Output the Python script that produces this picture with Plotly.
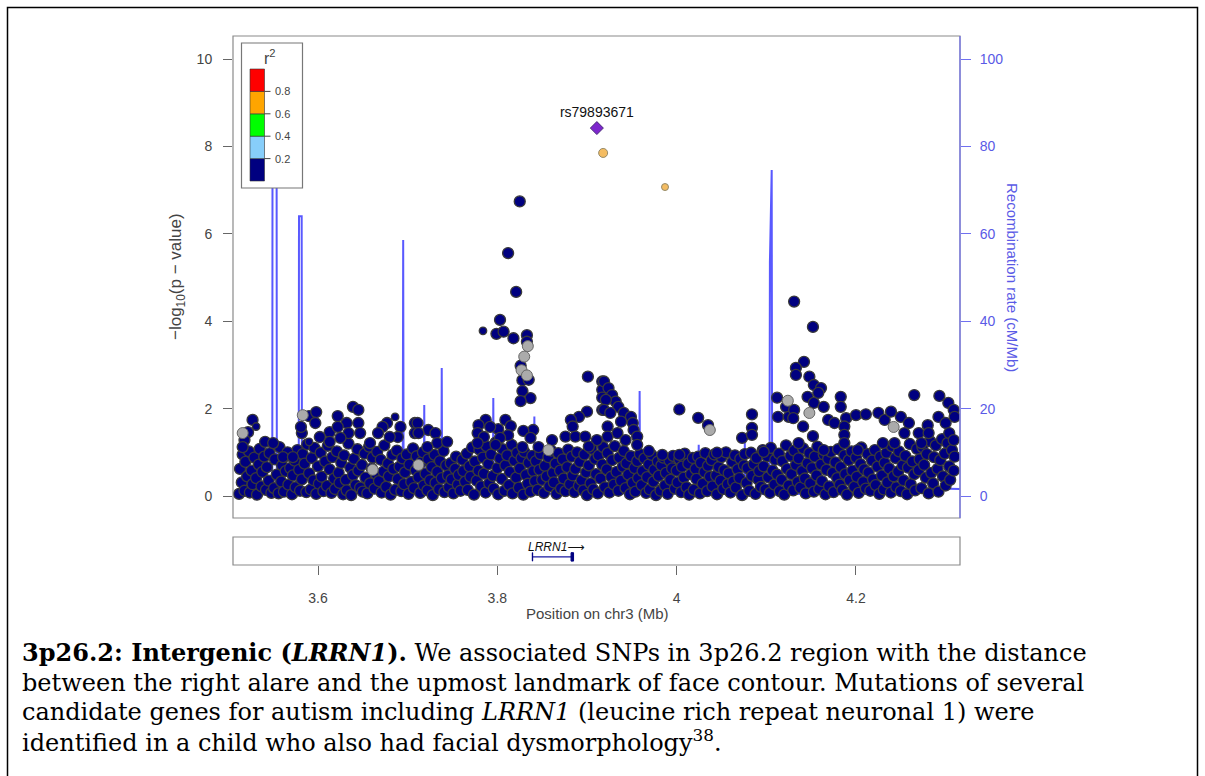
import plotly.graph_objects as go

W, H = 1205, 776

# ---------------- data ----------------
# dense low-significance band (Mb, -log10 p)
mass_pos = [
 3.512,3.513,3.515,3.516,3.518,3.519,3.521,3.523,3.524,3.526,3.527,3.529,
 3.531,3.532,3.534,3.535,3.537,3.538,3.540,3.542,3.543,3.545,3.546,3.548,
 3.551,3.552,3.554,3.556,3.557,3.559,3.560,3.562,3.564,3.565,3.567,3.569,
 3.571,3.572,3.574,3.575,3.577,3.579,3.580,3.582,3.583,3.585,3.587,3.588,
 3.590,3.592,3.593,3.595,3.596,3.598,3.600,3.601,3.603,3.604,3.606,3.608,
 3.610,3.611,3.613,3.615,3.616,3.618,3.619,3.621,3.623,3.624,3.626,3.628,
 3.629,3.631,3.632,3.634,3.636,3.637,3.639,3.640,3.642,3.644,3.645,3.647,
 3.649,3.650,3.652,3.653,3.655,3.657,3.658,3.660,3.661,3.663,3.665,3.666,
 3.668,3.670,3.671,3.673,3.674,3.676,3.678,3.679,3.681,3.683,3.684,3.686,
 3.688,3.689,3.691,3.693,3.694,3.696,3.697,3.699,3.701,3.702,3.704,3.706,
 3.707,3.709,3.710,3.712,3.714,3.715,3.717,3.718,3.720,3.722,3.723,3.725,
 3.727,3.728,3.730,3.731,3.733,3.735,3.736,3.738,3.740,3.741,3.743,3.745,
 3.746,3.748,3.749,3.751,3.753,3.754,3.756,3.757,3.759,3.761,3.762,3.764,
 3.766,3.767,3.769,3.770,3.772,3.774,3.775,3.777,3.779,3.780,3.782,3.784,
 3.785,3.787,3.788,3.790,3.791,3.793,3.795,3.796,3.798,3.800,3.801,3.803,
 3.805,3.806,3.808,3.809,3.811,3.813,3.814,3.816,3.817,3.819,3.821,3.822,
 3.824,3.825,3.827,3.829,3.830,3.832,3.834,3.835,3.837,3.839,3.840,3.842,
 3.843,3.845,3.847,3.848,3.850,3.852,3.853,3.855,3.857,3.858,3.860,3.862,
 3.863,3.865,3.866,3.868,3.870,3.871,3.873,3.874,3.876,3.878,3.879,3.881,
 3.883,3.884,3.886,3.887,3.889,3.891,3.892,3.894,3.896,3.897,3.899,3.900,
 3.902,3.904,3.905,3.907,3.909,3.910,3.912,3.913,3.915,3.917,3.918,3.920,
 3.922,3.923,3.925,3.927,3.928,3.930,3.931,3.933,3.935,3.936,3.938,3.940,
 3.941,3.943,3.944,3.946,3.948,3.949,3.951,3.953,3.954,3.956,3.957,3.959,
 3.961,3.962,3.964,3.966,3.967,3.969,3.970,3.972,3.974,3.975,3.977,3.979,
 3.980,3.982,3.983,3.985,3.987,3.988,3.990,3.992,3.993,3.995,3.996,3.998,
 4.000,4.001,4.003,4.005,4.006,4.008,4.009,4.011,4.013,4.014,4.016,4.018,
 4.019,4.021,4.022,4.024,4.026,4.027,4.029,4.031,4.032,4.034,4.035,4.037,
 4.039,4.040,4.042,4.044,4.045,4.047,4.049,4.050,4.052,4.053,4.055,4.057,
 4.058,4.060,4.062,4.063,4.065,4.066,4.068,4.070,4.071,4.073,4.075,4.076,
 4.078,4.079,4.081,4.083,4.084,4.086,4.088,4.089,4.091,4.092,4.094,4.096,
 4.097,4.099,4.101,4.102,4.104,4.105,4.107,4.109,4.110,4.112,4.114,4.115,
 4.117,4.118,4.120,4.122,4.123,4.125,4.127,4.128,4.130,4.131,4.133,4.135,
 4.136,4.138,4.140,4.141,4.143,4.144,4.146,4.148,4.149,4.151,4.153,4.154,
 4.156,4.157,4.159,4.161,4.162,4.164,4.166,4.167,4.169,4.170,4.172,4.174,
 4.175,4.177,4.179,4.180,4.182,4.183,4.185,4.187,4.188,4.190,4.192,4.193,
 4.195,4.196,4.198,4.200,4.201,4.203,4.205,4.206,4.208,4.209,4.211,4.213,
 4.214,4.216,4.218,4.219,4.221,4.222,4.224,4.226,4.227,4.229,4.231,4.232,
 4.234,4.235,4.237,4.239,4.240,4.242,4.244,4.245,4.247,4.248,4.250,4.252,
 4.253,4.255,4.257,4.258,4.260,4.261,4.263,4.265,4.266,4.268,4.270,4.271,
 4.273,4.274,4.276,4.278,4.279,4.281,4.283,4.284,4.286,4.287,4.289,4.291,
 4.292,4.294,4.296,4.297,4.299,4.300,4.302,4.304,4.305,4.307,4.309,4.310,
]
mass_logp = [
 0.05,0.62,0.31,0.95,0.12,0.78,0.45,1.02,0.08,0.58,0.27,0.88,
 0.41,0.03,0.72,1.08,0.22,0.55,0.90,0.14,0.66,0.35,0.98,0.07,
 0.18,0.84,0.49,0.06,1.12,0.33,0.70,0.10,0.57,0.92,0.26,0.64,
 0.04,0.47,0.81,0.20,1.05,0.60,0.12,0.38,0.96,0.74,0.09,1.18,
 0.52,0.15,0.87,0.36,1.10,0.05,0.68,0.28,0.99,0.44,0.11,0.79,
 0.23,1.15,0.61,0.07,0.89,0.40,0.16,1.02,0.53,0.30,0.76,0.04,
 0.93,0.37,0.13,1.20,0.65,0.02,0.48,0.85,0.25,1.07,0.58,0.19,
 0.71,0.10,0.97,0.42,0.06,1.13,0.29,0.63,0.88,0.17,0.50,1.01,
 0.34,0.83,0.08,0.56,1.16,0.21,0.74,0.45,0.03,0.94,0.62,0.14,
 1.04,0.39,0.67,0.11,0.86,0.27,0.54,0.95,0.05,0.72,0.32,1.09,
 0.18,0.59,0.91,0.43,0.07,0.77,1.00,0.24,0.51,0.13,0.84,0.36,
 0.66,0.02,0.94,0.30,0.55,0.15,0.80,0.41,1.03,0.09,0.70,0.47,
 0.20,0.75,0.38,0.06,0.62,0.90,0.26,0.48,0.12,0.83,0.57,0.33,
 0.97,0.14,0.68,0.44,1.11,0.03,0.79,0.35,0.58,1.06,0.22,0.88,
 0.51,0.08,1.14,0.73,0.29,0.95,0.46,0.17,1.22,0.64,0.04,0.86,
 0.39,1.07,0.12,0.70,0.93,0.25,0.55,1.17,0.06,0.81,0.42,0.99,
 0.19,0.63,0.87,0.03,1.01,0.48,0.28,0.76,0.10,0.92,0.57,0.34,
 0.80,0.14,0.60,0.96,0.37,0.07,0.69,0.45,0.89,0.22,1.04,0.53,
 0.31,0.74,0.05,0.98,0.58,0.17,0.84,0.40,0.11,0.66,1.06,0.27,
 0.90,0.47,0.09,0.62,1.00,0.23,0.78,0.36,0.13,0.95,0.54,0.02,
 0.70,0.29,1.08,0.15,0.85,0.50,0.06,0.93,0.40,0.72,1.12,0.20,
 0.61,0.98,0.08,0.44,0.82,0.26,1.14,0.55,0.12,0.88,0.35,0.67,
 1.03,0.18,0.75,0.49,0.04,0.91,0.30,0.64,0.10,0.80,0.41,0.96,
 0.25,0.57,0.86,0.07,0.43,0.72,0.15,0.94,0.33,0.60,0.02,0.79,
 0.46,0.12,0.70,0.88,0.24,0.53,0.05,0.81,0.37,0.63,0.92,0.17,
 0.58,0.31,0.84,0.09,0.67,0.42,0.97,0.20,0.74,0.03,0.50,0.87,
 0.14,0.62,0.39,0.90,0.06,0.76,0.28,0.55,0.98,0.11,0.69,0.44,
 0.82,0.22,0.95,0.47,0.04,0.66,0.35,0.89,0.16,0.59,1.00,0.27,
 0.52,0.08,0.78,0.33,0.93,0.19,0.61,0.41,0.85,0.02,0.70,0.96,
 0.30,0.64,0.12,0.99,0.46,0.73,0.05,0.87,0.38,0.57,0.21,1.05,
 0.68,0.15,0.91,0.43,0.07,1.10,0.58,0.26,0.83,0.49,0.97,0.11,
 0.37,0.80,0.03,1.16,0.62,0.24,0.92,0.50,0.13,1.04,0.71,0.32,
 0.86,0.19,0.57,1.09,0.40,0.06,0.75,0.98,0.29,0.64,0.10,0.90,
 0.47,1.13,0.16,0.72,0.34,0.95,0.04,0.60,0.85,0.22,1.01,0.53,
 0.09,0.77,0.41,1.07,0.26,0.66,0.14,0.93,0.50,0.03,0.82,0.36,
 1.02,0.58,0.21,0.88,0.44,0.07,0.73,1.11,0.32,0.61,0.17,0.96,
 0.54,0.12,0.81,0.38,1.05,0.25,0.67,0.05,0.90,0.47,0.15,0.76,
 0.99,0.31,0.63,0.08,1.14,0.45,0.87,0.20,0.56,1.02,0.11,0.70,
 0.36,0.92,0.04,0.65,1.19,0.27,0.79,0.50,0.13,1.08,0.59,0.84,
 0.18,1.12,0.71,0.42,0.96,0.06,1.25,0.53,0.29,0.89,1.16,0.62,
 0.10,0.82,1.30,0.45,0.97,0.24,1.21,0.68,0.37,1.05,0.58,0.90,
]

# scattered SNPs above the band, r2 < 0.2 (navy)
snp_pos = [
 3.527,3.522,3.518,3.516,3.541,3.550,3.590,3.598,3.597,3.582,3.581,3.622,3.639,3.645,
 3.645,3.632,3.613,3.622,3.634,3.647,3.625,3.677,3.672,3.667,3.692,3.689,3.680,3.708,
 3.708,3.658,3.613,3.602,3.566,3.561,3.572,
 3.821,3.803,3.799,3.807,3.818,3.833,3.833,3.826,3.828,3.835,3.828,3.837,3.826,3.901,
 3.917,3.917,3.917,3.917,3.900,3.891,3.882,3.884,3.876,3.887,3.898,3.911,3.902,3.861,
 3.840,3.829,3.837,3.828,3.846,3.809,3.815,3.812,3.801,3.803,3.787,3.779,3.792,3.778,
 3.785,3.778,3.798,3.711,3.723,3.731,3.733,3.744,3.722,3.712,3.825,3.812,
 3.919,3.924,3.928,3.932,3.935,3.921,3.919,3.926,3.941,3.949,3.951,3.938,3.952,3.956,
 3.923,3.923,3.934,3.943,3.956,3.969,4.003,4.024,4.035,4.084,4.084,4.073,4.084,4.112,
 4.122,4.113,4.125,4.131,3.984,4.003,4.045,4.097,
 4.152,4.142,4.133,4.133,4.148,4.153,4.161,4.146,4.153,4.158,4.131,4.130,4.141,4.152,
 4.164,4.183,4.183,4.169,4.176,4.189,4.200,4.211,4.187,4.187,4.187,4.225,4.232,4.239,
 4.250,4.259,4.254,4.265,4.293,4.303,4.309,4.310,4.292,4.280,4.270,4.281,4.300,4.304,
 4.309,4.202,4.164,4.136,4.230,4.243,4.273,
]
snp_logp = [
 1.74,1.46,1.28,1.12,1.24,1.21,1.83,1.92,1.67,1.44,1.58,1.83,2.04,1.97,
 1.67,1.67,1.46,1.58,1.44,1.44,1.33,1.67,1.58,1.44,1.58,1.35,1.35,1.67,
 1.44,1.21,1.24,1.35,1.00,0.89,0.89,
 4.67,4.03,3.71,3.76,3.61,3.68,3.53,2.98,2.65,2.66,2.40,2.24,2.17,2.73,
 2.62,2.43,2.25,1.97,1.93,1.81,1.74,1.59,1.36,1.36,1.36,1.28,1.13,1.28,
 1.51,1.49,1.33,1.12,1.12,1.74,1.60,1.39,1.53,1.33,1.74,1.62,1.58,1.44,
 1.35,1.21,1.17,1.67,1.51,1.44,1.21,1.24,1.12,1.44,6.74,5.56,
 2.62,2.47,2.31,2.16,2.04,2.20,1.97,1.90,1.90,1.81,1.67,1.70,1.51,1.36,
 1.59,1.36,1.44,1.28,1.17,1.03,1.98,1.79,1.62,1.87,1.56,1.33,1.40,2.25,
 2.04,1.81,1.81,4.45,0.94,0.94,0.99,1.01,
 3.87,3.07,2.93,2.77,2.73,2.54,2.47,2.27,2.13,2.36,1.97,1.78,1.59,1.37,
 2.04,2.27,2.04,1.74,1.67,1.78,1.85,1.87,1.59,1.40,1.21,1.90,1.74,1.93,
 1.81,1.67,1.44,2.31,2.29,2.13,1.97,1.81,1.81,1.62,1.44,1.44,1.67,1.44,
 1.28,1.05,1.05,1.21,1.21,1.21,1.21,
]

# smaller-marker navy SNPs
small_pos = [3.531, 3.590, 3.686, 3.784]
small_logp = [1.59, 1.24, 1.81, 3.78]

# SNPs without LD information (grey)
na_pos = [3.516, 3.583, 3.661, 3.712, 3.834, 3.830, 3.827, 3.833, 3.857, 4.037, 4.124, 4.148, 4.242]
na_logp = [1.44, 1.85, 0.60, 0.71, 3.43, 3.19, 2.88, 2.76, 1.05, 1.51, 2.18, 1.90, 1.58]

# r2 0.6-0.8 (orange)
orange_pos = [3.918, 3.987]
orange_logp = [7.85, 7.07]

# index SNP
lead_name = "rs79893671"
lead_pos = 3.911
lead_logp = 8.42

# recombination rate (cM/Mb)
recomb_pos = [3.505, 3.530, 3.5490, 3.5493, 3.5538, 3.5541, 3.566, 3.5785, 3.5788, 3.5818, 3.5821,
              3.640, 3.6945, 3.6950, 3.6955, 3.7180, 3.7185, 3.7190, 3.7375, 3.7380, 3.7385,
              3.770, 3.7950, 3.7955, 3.7960, 3.8408, 3.8413, 3.8418, 3.880, 3.9168, 3.9173, 3.9178,
              3.9582, 3.9587, 3.9592, 4.0241, 4.0246, 4.0251, 4.0755, 4.0760, 4.0765,
              4.1035, 4.1040, 4.1060, 4.1065, 4.180, 4.250, 4.262, 4.290, 4.316]
recomb_rate = [0.5, 0.8, 0.6, 88.0, 88.0, 0.6, 0.4, 0.5, 64.0, 64.0, 0.5,
               0.7, 0.6, 58.6, 0.6, 0.5, 20.8, 0.5, 0.6, 29.3, 0.6,
               0.8, 0.6, 22.4, 0.6, 0.5, 18.2, 0.5, 0.6, 0.5, 11.0, 0.5,
               0.6, 24.0, 0.6, 0.5, 11.7, 0.5, 0.6, 12.4, 0.6,
               0.5, 53.5, 74.6, 0.5, 0.4, 0.6, 1.6, 1.7, 1.6]

# gene track
gene_name = "LRRN1"
gene_start = 3.8390
gene_end = 3.8850
exon_start = [3.8390, 3.8822]
exon_end = [3.8394, 3.8850]

# axis ticks
x_ticks = [3.6, 3.8, 4.0, 4.2]
x_ticklabels = ["3.6", "3.8", "4", "4.2"]
y_ticks = [0, 2, 4, 6, 8, 10]
recomb_ticks = [0, 20, 40, 60, 80, 100]
legend_breaks = [0.2, 0.4, 0.6, 0.8]
legend_colors = ["#000080", "#87CEFA", "#00FF00", "#FFA500", "#FF0000"]

caption_lines = [
    "<b>3p26.2: Intergenic (<i>LRRN1</i>).</b> We associated SNPs in 3p26.2 region with the distance",
    "between the right alare and the upmost landmark of face contour. Mutations of several",
    "candidate genes for autism including <i>LRRN1</i> (leucine rich repeat neuronal 1) were",
    "identified in a child who also had facial dysmorphology<sup>38</sup>.",
]

# ---------------- layout helpers ----------------
def px(x):
    return x / W

def py(y):
    return 1 - y / H

PL, PR = 233, 960          # plot left/right (px)
PT, PB = 36, 518           # main panel top/bottom (px)
GT, GB = 537, 565          # gene panel top/bottom (px)
XR = [3.5052, 4.3160]
Y0PX, Y10PX = 496, 59
unit = (Y0PX - Y10PX) / 10.0
YR = [-(PB - Y0PX) / unit, (Y0PX - PT) / unit]
RR = [YR[0] * 10, YR[1] * 10]

SANS = "Liberation Sans, Arial, sans-serif"
SERIF = "DejaVu Serif, serif"
GRAY = "#444444"
BLUE_TXT = "#5a5ae6"

fig = go.Figure()

# recombination line (base y axis so it sits under the points)
fig.add_trace(go.Scatter(x=recomb_pos, y=recomb_rate, mode="lines",
                         line=dict(color="rgba(60,60,255,0.85)", width=2),
                         xaxis="x", yaxis="y", hoverinfo="skip", showlegend=False))

edge = dict(color="#3a3a3a", width=1.3)
fig.add_trace(go.Scatter(x=mass_pos, y=mass_logp, mode="markers", xaxis="x", yaxis="y3",
                         marker=dict(size=11, color="#000080", line=edge), showlegend=False))
fig.add_trace(go.Scatter(x=snp_pos, y=snp_logp, mode="markers", xaxis="x", yaxis="y3",
                         marker=dict(size=11, color="#000080", line=edge), showlegend=False))
fig.add_trace(go.Scatter(x=small_pos, y=small_logp, mode="markers", xaxis="x", yaxis="y3",
                         marker=dict(size=7.5, color="#000080", line=edge), showlegend=False))
fig.add_trace(go.Scatter(x=na_pos, y=na_logp, mode="markers", xaxis="x", yaxis="y3",
                         marker=dict(size=11, color="#ABABAB", line=dict(color="#666666", width=1)),
                         showlegend=False))
fig.add_trace(go.Scatter(x=orange_pos, y=orange_logp, mode="markers", xaxis="x", yaxis="y3",
                         marker=dict(size=[9, 7], color="#F0A020", line=dict(color="#6a5a2a", width=1)),
                         showlegend=False))
fig.add_trace(go.Scatter(x=[lead_pos], y=[lead_logp], mode="markers+text", xaxis="x", yaxis="y3",
                         marker=dict(size=10, symbol="diamond", color="#7D26CD",
                                     line=dict(color="#4a2a7a", width=1)),
                         text=[lead_name], textposition="top center",
                         textfont=dict(family=SANS, size=14, color="#111111"),
                         showlegend=False))

# gene track
fig.add_trace(go.Scatter(x=[gene_start, gene_end], y=[0.29, 0.29], mode="lines", xaxis="x2", yaxis="y2",
                         line=dict(color="#1a1aa0", width=1.2), hoverinfo="skip", showlegend=False))

shapes = []
for s, e in zip(exon_start, exon_end):
    shapes.append(dict(type="rect", xref="x2", yref="y2", x0=s, x1=e, y0=0.14, y1=0.44,
                       fillcolor="#000080", line=dict(color="#000080", width=1)))

# main panel frame and gene panel frame
shapes.append(dict(type="rect", xref="paper", yref="paper", x0=px(PL), x1=px(PR), y0=py(PB), y1=py(PT),
                   line=dict(color="#8a8a8a", width=1.2), layer="above"))
shapes.append(dict(type="rect", xref="paper", yref="paper", x0=px(PL), x1=px(PR), y0=py(GB), y1=py(GT),
                   line=dict(color="#8a8a8a", width=1.2), layer="above"))
# right axis line (blue)
shapes.append(dict(type="line", xref="paper", yref="paper", x0=px(PR), x1=px(PR), y0=py(PB), y1=py(PT),
                   line=dict(color="#7070f0", width=1.2), layer="above"))

# r2 legend box
LX0, LX1, LY0, LY1 = 241.5, 302.5, 43, 188
shapes.append(dict(type="rect", xref="paper", yref="paper", x0=px(LX0), x1=px(LX1), y0=py(LY1), y1=py(LY0),
                   fillcolor="white", line=dict(color="#777777", width=1.2), layer="above"))
CB_X0, CB_X1, CB_TOP, CB_BOT = 250, 264.5, 69, 181
seg = (CB_BOT - CB_TOP) / len(legend_colors)
for i, c in enumerate(legend_colors):
    ybot = CB_BOT - i * seg
    shapes.append(dict(type="rect", xref="paper", yref="paper", x0=px(CB_X0), x1=px(CB_X1),
                       y0=py(ybot), y1=py(ybot - seg), fillcolor=c,
                       line=dict(color="#333333", width=0.6), layer="above"))

annotations = []
for i, b in enumerate(legend_breaks):
    yb = CB_BOT - (i + 1) * seg
    shapes.append(dict(type="line", xref="paper", yref="paper", x0=px(CB_X1), x1=px(CB_X1 + 6),
                       y0=py(yb), y1=py(yb), line=dict(color="#444444", width=1), layer="above"))
    annotations.append(dict(x=px(CB_X1 + 8), y=py(yb), xref="paper", yref="paper", text=f"{b:.1f}",
                            showarrow=False, xanchor="left", yanchor="middle",
                            font=dict(family=SANS, size=11, color=GRAY)))
annotations.append(dict(x=px(270), y=py(57), xref="paper", yref="paper", text="r<sup>2</sup>",
                        showarrow=False, xanchor="center", yanchor="middle",
                        font=dict(family=SANS, size=16, color=GRAY)))

# gene label
annotations.append(dict(x=(gene_start + gene_end) / 2 + 0.004, y=0.66, xref="x2", yref="y2",
                        text=f"<i>{gene_name}</i>\u27f6", showarrow=False, xanchor="center", yanchor="middle",
                        font=dict(family="Liberation Sans, DejaVu Sans, sans-serif", size=12, color="#111111")))

# axis titles
annotations.append(dict(x=px(177), y=py(277), xref="paper", yref="paper",
                        text="\u2212log<sub>10</sub>(p \u2212 value)", textangle=-90, showarrow=False,
                        xanchor="center", yanchor="middle", font=dict(family=SANS, size=17, color=GRAY)))
annotations.append(dict(x=px(1013), y=py(277), xref="paper", yref="paper",
                        text="Recombination rate (cM/Mb)", textangle=90, showarrow=False,
                        xanchor="center", yanchor="middle", font=dict(family=SANS, size=15, color=BLUE_TXT)))
annotations.append(dict(x=px(597), y=py(613), xref="paper", yref="paper",
                        text="Position on chr3 (Mb)", showarrow=False,
                        xanchor="center", yanchor="middle", font=dict(family=SANS, size=15, color=GRAY)))

# caption
cap_y = [652, 682.5, 712, 741]
for t, yy in zip(caption_lines, cap_y):
    annotations.append(dict(x=px(20), y=py(yy), xref="paper", yref="paper", text=t, showarrow=False,
                            xanchor="left", yanchor="middle", align="left",
                            font=dict(family=SERIF, size=24, color="black")))

# outer page frame
shapes.append(dict(type="rect", xref="paper", yref="paper", x0=px(7.5), x1=px(1197.5), y0=py(790), y1=py(7.5),
                   line=dict(color="black", width=1.5), layer="above"))

fig.update_layout(
    width=W, height=H, margin=dict(l=0, r=0, t=0, b=0),
    paper_bgcolor="white", plot_bgcolor="white",
    showlegend=False,
    xaxis=dict(domain=[px(PL), px(PR)], range=XR, anchor="y", showticklabels=False, ticks="",
               showgrid=False, zeroline=False, showline=False),
    yaxis=dict(domain=[py(PB), py(PT)], range=RR, anchor="x", side="right",
               tickvals=recomb_ticks, ticks="outside", ticklen=10, tickcolor="#7070f0", tickwidth=1,
               tickfont=dict(family=SANS, size=14, color=BLUE_TXT), ticklabelstandoff=6,
               showgrid=False, zeroline=False, showline=False),
    yaxis3=dict(overlaying="y", range=YR, anchor="x", side="left",
                tickvals=y_ticks, ticks="outside", ticklen=9, tickcolor="#666666", tickwidth=1,
                tickfont=dict(family=SANS, size=14, color=GRAY), ticklabelstandoff=8,
                showgrid=False, zeroline=False, showline=False),
    xaxis2=dict(domain=[px(PL), px(PR)], range=XR, anchor="y2",
                tickvals=x_ticks, ticktext=x_ticklabels, ticks="outside", ticklen=9,
                tickcolor="#666666", tickfont=dict(family=SANS, size=14, color=GRAY),
                ticklabelstandoff=11, showgrid=False, zeroline=False, showline=False),
    yaxis2=dict(domain=[py(GB), py(GT)], range=[0, 1], anchor="x2", visible=False),
    shapes=shapes, annotations=annotations,
)

fig.write_html("out.html")
